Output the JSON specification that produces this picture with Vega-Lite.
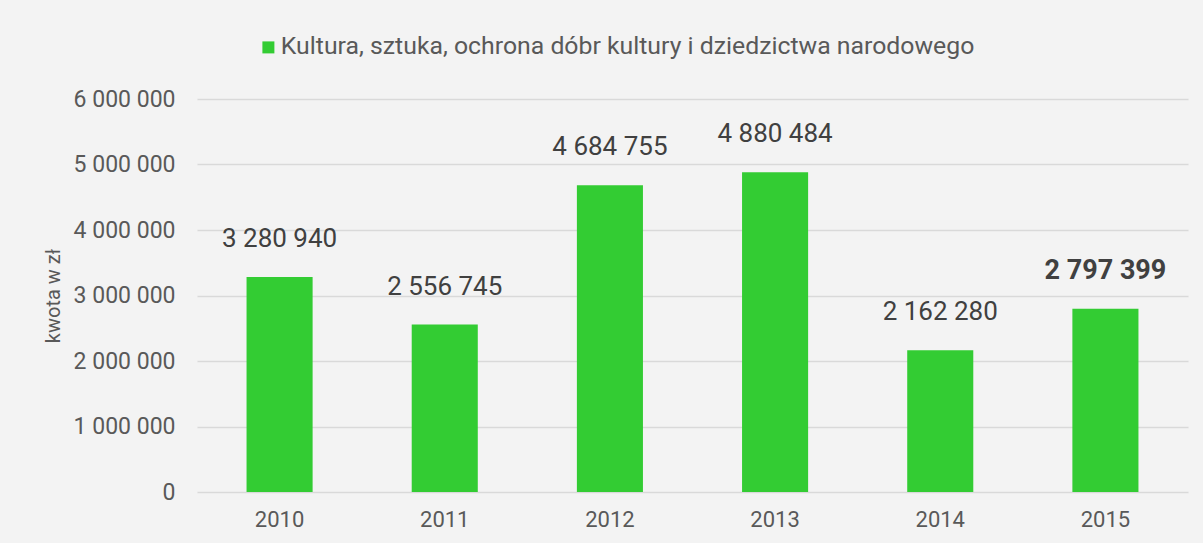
{
  "$schema": "https://vega.github.io/schema/vega-lite/v6.json",
  "autosize": {"type": "none"},
  "width": 991,
  "height": 393,
  "padding": {"left": 197, "top": 99, "right": 15, "bottom": 51},
  "background": "#f3f3f3",
  "data": {
    "values": [
      {"year": "2010", "value": 3280940, "series": "Kultura, sztuka, ochrona dóbr kultury i dziedzictwa narodowego"},
      {"year": "2011", "value": 2556745, "series": "Kultura, sztuka, ochrona dóbr kultury i dziedzictwa narodowego"},
      {"year": "2012", "value": 4684755, "series": "Kultura, sztuka, ochrona dóbr kultury i dziedzictwa narodowego"},
      {"year": "2013", "value": 4880484, "series": "Kultura, sztuka, ochrona dóbr kultury i dziedzictwa narodowego"},
      {"year": "2014", "value": 2162280, "series": "Kultura, sztuka, ochrona dóbr kultury i dziedzictwa narodowego"},
      {"year": "2015", "value": 2797399, "series": "Kultura, sztuka, ochrona dóbr kultury i dziedzictwa narodowego"}
    ]
  },
  "encoding": {
    "x": {
      "field": "year", "type": "ordinal",
      "scale": {"paddingInner": 0.6, "paddingOuter": 0.3},
      "axis": {"title": null, "labelAngle": 0, "ticks": false, "domain": false, "labelPadding": 17, "labelFontSize": 22, "labelColor": "#595959", "labelFont": "Roboto"}
    },
    "y": {
      "field": "value", "type": "quantitative",
      "scale": {"domain": [0, 6000000]},
      "axis": {"title": "kwota w zł", "values": [0, 1000000, 2000000, 3000000, 4000000, 5000000, 6000000], "format": ",d", "ticks": false, "domain": false, "labelPadding": 22, "labelFontSize": 23, "labelColor": "#595959", "labelFont": "Roboto", "titleFont": "Roboto", "titleFontSize": 20, "titleFontWeight": "normal", "titleColor": "#595959", "titlePadding": 10, "gridColor": "#d9d9d9", "gridWidth": 1.5}
    }
  },
  "layer": [
    {
      "mark": {"type": "bar"},
      "encoding": {
        "color": {
          "field": "series", "type": "nominal",
          "scale": {"range": ["#33cc33"]},
          "legend": {"orient": "none", "legendX": 59, "legendY": -64, "title": null, "symbolType": "square", "symbolSize": 144, "symbolStrokeWidth": 0, "labelFontSize": 24.8, "labelFont": "Roboto", "labelColor": "#595959", "labelOffset": 0, "padding": 0, "labelLimit": 1000}
        }
      }
    },
    {
      "transform": [{"filter": "datum.year != '2015'"}],
      "mark": {"type": "text", "baseline": "alphabetic", "dy": -30, "fontSize": 26, "font": "Roboto", "color": "#404040"},
      "encoding": {
        "text": {"field": "value", "type": "quantitative", "format": ",d"}
      }
    },
    {
      "transform": [{"filter": "datum.year == '2015'"}],
      "mark": {"type": "text", "baseline": "alphabetic", "dy": -30, "fontSize": 27, "font": "Roboto", "fontWeight": "bold", "color": "#404040"},
      "encoding": {
        "text": {"field": "value", "type": "quantitative", "format": ",d"}
      }
    }
  ],
  "config": {
    "view": {"stroke": null},
    "locale": {"number": {"decimal": ",", "thousands": " ", "grouping": [3], "currency": ["", " zł"]}}
  }
}
